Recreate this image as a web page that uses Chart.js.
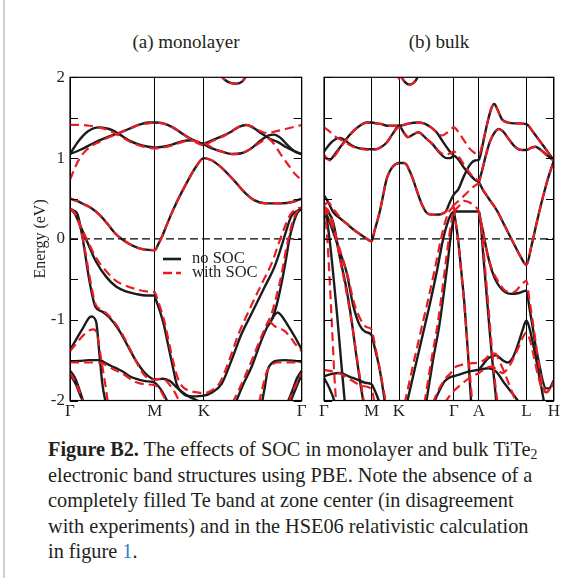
<!DOCTYPE html>
<html>
<head>
<meta charset="utf-8">
<script src="https://cdn.jsdelivr.net/npm/chart.js@4/dist/chart.umd.min.js"></script>
<style>
  html, body { margin: 0; padding: 0; background: #fff; }
  #page { position: relative; width: 561px; height: 578px; overflow: hidden;
          font-family: "Liberation Serif", "Times New Roman", serif; color: #231f20; }
  .rule { position: absolute; left: 3px; top: 0; width: 2px; height: 578px; background: #cfcfcf; }
  .panel-title { position: absolute; top: 31px; font-size: 19px; line-height: 22px;
                 transform: translateX(-50%); white-space: nowrap; }
  canvas { position: absolute; top: 0; }
  #caption { position: absolute; left: 48px; top: 437px; font-size: 20.3px; line-height: 25.5px;
             white-space: nowrap; }
  #caption sub { font-size: 0.68em; line-height: 0; vertical-align: -0.22em; }
  #caption .ref { color: #2f80bf; }
</style>
</head>
<body>
<div id="page">
  <div class="rule"></div>
  <div class="panel-title" style="left:186px">(a) monolayer</div>
  <div class="panel-title" style="left:439px">(b) bulk</div>
  <canvas id="mono" width="310" height="420" style="left:0"></canvas>
  <canvas id="bulk" width="251" height="420" style="left:310px"></canvas>
  <div id="caption"><b>Figure B2.</b> The effects of SOC in monolayer and bulk TiTe<sub>2</sub><br>electronic band structures using PBE. Note the absence of a<br>completely filled Te band at zone center (in disagreement<br>with experiments) and in the HSE06 relativistic calculation<br>in figure <span class="ref">1</span>.</div>
</div>
<script>
// Energy axis (eV): inward tick marks every 0.5 eV, labels on whole numbers
const energyTicks = [-2, -1.5, -1, -0.5, 0, 0.5, 1, 1.5, 2];
const energyLabels = [-2, -1, 0, 1, 2];

// High-symmetry points along each k-path (path length units)
const monoKpoints = [0, 0.866, 1.366, 2.366];
const monoKlabels = ['Γ', 'M', 'K', 'Γ'];
const bulkKpoints = [0, 0.866, 1.366, 2.366, 2.82, 3.686, 4.186];
const bulkKlabels = ['Γ', 'M', 'K', 'Γ', 'A', 'L', 'H'];

// Monolayer bands without spin-orbit coupling, each as [k, E] pairs
const monoNoSOC = [
  [[0,1.05],[0.08,1.2],[0.18,1.33],[0.3,1.38],[0.4,1.36],[0.5,1.3],[0.6,1.22],[0.7,1.17],[0.8,1.14],[0.866,1.13],[0.95,1.14],[1.05,1.17],[1.15,1.21],[1.25,1.22],[1.32,1.19],[1.366,1.17],[1.45,1.12],[1.55,1.08],[1.65,1.05],[1.75,1.06],[1.85,1.12],[1.95,1.22],[2.03,1.28],[2.08,1.29],[2.15,1.25],[2.23,1.15],[2.3,1.08],[2.366,1.05]],
  [[0,1.05],[0.1,1.1],[0.2,1.16],[0.3,1.22],[0.4,1.27],[0.5,1.31],[0.6,1.36],[0.7,1.41],[0.8,1.44],[0.866,1.44],[0.95,1.43],[1.05,1.38],[1.15,1.3],[1.25,1.23],[1.366,1.18],[1.45,1.22],[1.55,1.27],[1.65,1.33],[1.73,1.39],[1.8,1.41],[1.88,1.37],[1.96,1.3],[2.04,1.24],[2.12,1.2],[2.2,1.14],[2.3,1.08],[2.366,1.05]],
  [[1.52,2.05],[1.58,1.97],[1.64,1.93],[1.7,1.92],[1.76,1.95],[1.82,2.05]],
  [[0,0.5],[0.07,0.47],[0.14,0.43],[0.22,0.38],[0.3,0.3],[0.38,0.19],[0.46,0.07],[0.55,-0.02],[0.65,-0.09],[0.75,-0.13],[0.866,-0.14],[0.9,-0.07],[0.94,0.03],[0.99,0.18],[1.05,0.35],[1.1,0.48],[1.19,0.69],[1.28,0.88],[1.366,1.0],[1.45,0.97],[1.55,0.88],[1.67,0.73],[1.78,0.58],[1.88,0.48],[2.0,0.44],[2.15,0.44],[2.28,0.46],[2.366,0.5]],
  [[0,0.37],[0.04,0.35],[0.078,0.3],[0.13,0.0],[0.197,-0.51],[0.259,-0.84],[0.33,-0.9],[0.4,-0.97],[0.5,-1.13],[0.61,-1.37],[0.67,-1.5],[0.766,-1.66],[0.866,-1.74],[0.95,-1.73],[1.02,-1.76],[1.1,-1.85],[1.2,-1.94],[1.3,-2.0],[1.4,-2.05]],
  [[0,0.37],[0.05,0.31],[0.095,0.19],[0.163,0.0],[0.265,-0.28],[0.37,-0.47],[0.47,-0.59],[0.57,-0.65],[0.67,-0.68],[0.78,-0.7],[0.866,-0.7],[0.88,-0.76],[0.92,-0.9],[0.96,-1.07],[1.0,-1.3],[1.056,-1.62],[1.09,-1.8],[1.16,-1.92],[1.25,-1.95],[1.366,-1.94],[1.45,-1.9],[1.55,-1.79],[1.65,-1.5],[1.75,-1.18],[1.856,-0.92],[1.99,-0.59],[2.09,-0.34],[2.16,-0.09],[2.21,0.11],[2.26,0.28],[2.31,0.34],[2.366,0.37]],
  [[0,-1.375],[0.061,-1.25],[0.129,-1.11],[0.215,-0.96],[0.266,-1.02],[0.3,-1.42],[0.33,-1.79],[0.368,-2.05]],
  [[0,-1.52],[0.1,-1.51],[0.2,-1.5],[0.3,-1.5],[0.34,-1.52],[0.4,-1.56],[0.47,-1.6],[0.55,-1.65],[0.61,-1.7],[0.67,-1.73],[0.77,-1.76],[0.866,-1.78],[0.92,-1.85],[0.97,-1.95],[1.0,-2.03]],
  [[0,-1.63],[0.05,-1.72],[0.1,-1.88],[0.14,-2.03]],
  [[0,-1.68],[0.06,-1.8],[0.11,-1.95],[0.15,-2.05]],
  [[1.69,-2.03],[1.77,-1.8],[1.856,-1.58],[1.94,-1.3],[2.01,-1.1],[2.06,-1.0],[2.11,-0.82],[2.16,-0.55],[2.21,-0.22],[2.24,0.0],[2.28,0.19],[2.32,0.32],[2.366,0.37]],
  [[2.06,-1.0],[2.09,-0.94],[2.12,-0.91],[2.16,-0.95],[2.22,-1.06],[2.3,-1.22],[2.366,-1.37]],
  [[1.96,-2.03],[1.99,-1.83],[2.02,-1.62],[2.06,-1.54],[2.1,-1.51],[2.2,-1.5],[2.3,-1.51],[2.366,-1.52]],
  [[2.22,-2.03],[2.27,-1.88],[2.32,-1.72],[2.366,-1.63]],
  [[2.24,-2.05],[2.29,-1.9],[2.33,-1.78],[2.366,-1.68]]
];

// Monolayer bands with spin-orbit coupling
const monoSOC = [
  [[0,1.41],[0.1,1.41],[0.2,1.4],[0.3,1.38],[0.4,1.34],[0.5,1.28],[0.6,1.21],[0.7,1.16],[0.8,1.13],[0.866,1.12],[0.95,1.13],[1.05,1.16],[1.15,1.2],[1.25,1.22],[1.32,1.2],[1.366,1.19],[1.45,1.13],[1.55,1.08],[1.65,1.05],[1.75,1.06],[1.85,1.12],[1.95,1.2],[2.02,1.24],[2.08,1.18],[2.15,1.05],[2.22,0.93],[2.3,0.8],[2.366,0.73]],
  [[0,0.73],[0.05,0.88],[0.1,1.0],[0.16,1.09],[0.22,1.15],[0.3,1.2],[0.4,1.26],[0.5,1.31],[0.6,1.36],[0.7,1.41],[0.8,1.43],[0.866,1.44],[0.95,1.43],[1.05,1.38],[1.15,1.3],[1.25,1.22],[1.366,1.16],[1.45,1.21],[1.55,1.26],[1.65,1.33],[1.73,1.39],[1.8,1.41],[1.88,1.38],[1.95,1.33],[2.02,1.31],[2.1,1.33],[2.2,1.36],[2.3,1.39],[2.366,1.41]],
  [[1.52,2.05],[1.58,1.97],[1.64,1.93],[1.7,1.92],[1.76,1.95],[1.82,2.05]],
  [[0,0.5],[0.07,0.47],[0.14,0.43],[0.22,0.38],[0.3,0.3],[0.38,0.19],[0.46,0.07],[0.55,-0.02],[0.65,-0.09],[0.75,-0.13],[0.866,-0.14],[0.9,-0.07],[0.94,0.03],[0.99,0.18],[1.05,0.35],[1.1,0.48],[1.19,0.69],[1.28,0.88],[1.366,1.0],[1.45,0.97],[1.55,0.88],[1.67,0.73],[1.78,0.58],[1.88,0.48],[2.0,0.44],[2.15,0.44],[2.28,0.46],[2.366,0.5]],
  [[0,0.37],[0.04,0.33],[0.08,0.24],[0.14,-0.05],[0.205,-0.5],[0.265,-0.82],[0.33,-0.88],[0.42,-0.98],[0.52,-1.15],[0.62,-1.38],[0.68,-1.53],[0.77,-1.7],[0.866,-1.74],[0.95,-1.73],[1.0,-1.78],[1.07,-1.9],[1.12,-2.02]],
  [[0,0.38],[0.05,0.32],[0.1,0.18],[0.17,0.0],[0.27,-0.24],[0.37,-0.4],[0.47,-0.52],[0.57,-0.58],[0.67,-0.62],[0.78,-0.65],[0.866,-0.66],[0.89,-0.74],[0.93,-0.88],[0.97,-1.05],[1.01,-1.28],[1.06,-1.55],[1.1,-1.72],[1.15,-1.83],[1.22,-1.88],[1.3,-1.9],[1.366,-1.91],[1.44,-1.88],[1.53,-1.78],[1.62,-1.52],[1.72,-1.18],[1.83,-0.88],[1.96,-0.55],[2.06,-0.3],[2.13,-0.06],[2.19,0.14],[2.25,0.3],[2.31,0.37],[2.366,0.39]],
  [[0,-1.39],[0.06,-1.3],[0.13,-1.2],[0.2,-1.13],[0.245,-1.12],[0.28,-1.2],[0.32,-1.5],[0.36,-1.8],[0.39,-2.05]],
  [[0,-1.53],[0.1,-1.53],[0.2,-1.53],[0.3,-1.53],[0.35,-1.55],[0.41,-1.59],[0.47,-1.63],[0.55,-1.68],[0.61,-1.73],[0.67,-1.77],[0.77,-1.8],[0.866,-1.81],[0.92,-1.87],[0.97,-1.98],[1.0,-2.04]],
  [[0,-1.66],[0.06,-1.78],[0.1,-1.9],[0.145,-2.03]],
  [[1.66,-2.03],[1.75,-1.8],[1.84,-1.55],[1.93,-1.28],[2.0,-1.08],[2.06,-0.92],[2.11,-0.7],[2.16,-0.44],[2.2,-0.17],[2.23,0.0],[2.27,0.2],[2.32,0.34],[2.366,0.39]],
  [[2.04,-1.02],[2.09,-1.08],[2.13,-1.11],[2.18,-1.13],[2.24,-1.2],[2.3,-1.3],[2.366,-1.39]],
  [[1.93,-2.03],[1.97,-1.82],[2.01,-1.64],[2.06,-1.56],[2.12,-1.53],[2.2,-1.53],[2.3,-1.53],[2.366,-1.53]],
  [[2.23,-2.03],[2.28,-1.88],[2.33,-1.75],[2.366,-1.66]]
];

// Bulk bands without spin-orbit coupling
const bulkNoSOC = [
  [[0,1.08],[0.1,1.17],[0.2,1.23],[0.29,1.25],[0.38,1.22],[0.5,1.16],[0.65,1.12],[0.866,1.11],[0.95,1.11],[1.05,1.14],[1.15,1.2],[1.25,1.3],[1.366,1.4],[1.45,1.32],[1.53,1.26],[1.62,1.29],[1.72,1.32],[1.85,1.25],[1.98,1.17],[2.1,1.07],[2.23,1.0],[2.3,1.0],[2.366,1.03],[2.45,0.98],[2.55,0.88],[2.65,0.8],[2.75,0.73],[2.82,0.7],[2.9,0.6],[3.0,0.5],[3.15,0.35],[3.3,0.15],[3.45,-0.05],[3.58,-0.22],[3.686,-0.32],[3.78,-0.08],[3.88,0.22],[3.98,0.5],[4.08,0.75],[4.186,0.97]],
  [[0,1.01],[0.11,0.98],[0.2,1.05],[0.3,1.14],[0.41,1.24],[0.53,1.33],[0.65,1.4],[0.78,1.44],[0.866,1.44],[0.95,1.43],[1.05,1.42],[1.15,1.4],[1.25,1.4],[1.366,1.4],[1.45,1.41],[1.56,1.43],[1.7,1.44],[1.82,1.43],[1.95,1.38],[2.05,1.32],[2.15,1.22],[2.25,1.12],[2.32,1.06],[2.366,1.05]],
  [[0,0.54],[0.08,0.45],[0.17,0.33],[0.3,0.25],[0.41,0.19],[0.53,0.12],[0.65,0.06],[0.76,0.01],[0.866,-0.03],[0.92,0.1],[0.97,0.22],[1.02,0.35],[1.08,0.55],[1.14,0.74],[1.2,0.84],[1.26,0.9],[1.366,0.94],[1.45,0.94],[1.5,0.92],[1.56,0.84],[1.62,0.74],[1.68,0.62],[1.74,0.5],[1.8,0.4],[1.86,0.33],[1.95,0.3],[2.04,0.3],[2.15,0.31],[2.22,0.34],[2.29,0.45],[2.366,0.55],[2.45,0.62],[2.55,0.78],[2.65,0.91],[2.75,0.97],[2.82,0.98],[2.9,1.2],[2.98,1.45],[3.05,1.62],[3.1,1.67],[3.16,1.6],[3.24,1.48],[3.35,1.44],[3.5,1.43],[3.686,1.42],[3.8,1.33],[3.92,1.22],[4.05,1.1],[4.186,0.97]],
  [[2.82,0.7],[2.88,0.85],[2.95,1.04],[3.02,1.2],[3.1,1.31],[3.18,1.36],[3.26,1.33],[3.36,1.24],[3.48,1.14],[3.6,1.1],[3.686,1.1],[3.78,1.13],[3.85,1.14],[3.95,1.1],[4.07,1.03],[4.186,0.97]],
  [[2.366,0.34],[2.5,0.34],[2.65,0.34],[2.82,0.34],[2.86,0.2],[2.9,0.08],[2.95,-0.1],[3.0,-0.25],[3.06,-0.4],[3.14,-0.53],[3.25,-0.63],[3.4,-0.68],[3.55,-0.67],[3.686,-0.64],[3.74,-0.85],[3.8,-1.09],[3.86,-1.35],[3.92,-1.55],[3.98,-1.75],[4.04,-1.85],[4.1,-1.85],[4.186,-1.75]],
  [[2.82,0.34],[2.86,0.15],[2.9,-0.2],[2.95,-0.6],[3.0,-1.0],[3.05,-1.4],[3.1,-1.75],[3.14,-2.03]],
  [[2.366,0.34],[2.4,0.2],[2.44,0.0],[2.5,-0.4],[2.56,-0.83],[2.62,-1.4],[2.68,-2.03]],
  [[0,0.37],[0.04,0.28],[0.1,0.0],[0.17,-0.45],[0.24,-0.95],[0.31,-1.5],[0.38,-2.03]],
  [[0,0.37],[0.08,0.33],[0.17,0.2],[0.28,-0.2],[0.41,-0.62],[0.5,-1.0],[0.59,-1.45],[0.66,-1.78],[0.72,-2.03]],
  [[0,0.37],[0.08,0.25],[0.17,0.08],[0.29,-0.16],[0.41,-0.41],[0.53,-0.82],[0.65,-1.07],[0.75,-1.15],[0.866,-1.19],[0.9,-1.28],[0.95,-1.42],[1.01,-1.6],[1.06,-1.8],[1.11,-2.03]],
  [[1.51,-2.03],[1.65,-1.62],[1.8,-1.18],[1.92,-0.83],[2.05,-0.42],[2.17,0.0],[2.26,0.22],[2.32,0.31],[2.366,0.34]],
  [[1.86,-2.03],[1.98,-1.52],[2.1,-1.07],[2.18,-0.68],[2.26,-0.25],[2.31,0.05],[2.35,0.22],[2.366,0.34]],
  [[0,-1.7],[0.15,-1.67],[0.29,-1.66],[0.45,-1.7],[0.6,-1.74],[0.75,-1.78],[0.866,-1.8],[0.92,-1.87],[0.97,-1.95],[1.01,-2.03]],
  [[0,-1.72],[0.08,-1.82],[0.15,-1.93],[0.2,-2.03]],
  [[2.0,-2.03],[2.1,-1.88],[2.2,-1.76],[2.3,-1.71],[2.366,-1.7],[2.5,-1.67],[2.65,-1.64],[2.82,-1.62],[3.0,-1.6],[3.13,-1.64],[3.3,-1.8],[3.45,-1.93],[3.56,-2.03]],
  [[2.82,-1.62],[2.9,-1.55],[2.97,-1.49],[3.04,-1.46],[3.13,-1.44],[3.25,-1.5],[3.35,-1.53],[3.43,-1.48],[3.5,-1.37],[3.56,-1.25],[3.62,-1.12],[3.686,-1.01],[3.74,-1.1],[3.8,-1.28],[3.86,-1.48],[3.92,-1.7],[3.97,-1.88],[4.01,-2.03]],
  [[1.38,2.05],[1.45,1.96],[1.56,1.91],[1.66,1.95],[1.74,2.05]]
];

// Bulk bands with spin-orbit coupling
const bulkSOC = [
  [[0,1.38],[0.1,1.33],[0.2,1.27],[0.3,1.23],[0.4,1.19],[0.53,1.14],[0.7,1.11],[0.866,1.1],[0.95,1.11],[1.05,1.14],[1.15,1.2],[1.25,1.3],[1.366,1.38],[1.45,1.31],[1.53,1.26],[1.62,1.29],[1.72,1.32],[1.85,1.25],[1.98,1.17],[2.1,1.08],[2.22,1.04],[2.3,1.06],[2.366,1.08],[2.45,1.02],[2.55,0.92],[2.65,0.82],[2.75,0.75],[2.82,0.72],[2.88,0.85],[2.95,1.04],[3.02,1.2],[3.1,1.31],[3.18,1.36],[3.26,1.33],[3.36,1.24],[3.48,1.14],[3.6,1.1],[3.686,1.1],[3.78,1.13],[3.85,1.14],[3.95,1.1],[4.07,1.03],[4.186,0.97]],
  [[0,1.04],[0.11,0.97],[0.2,1.03],[0.3,1.13],[0.41,1.23],[0.53,1.33],[0.65,1.4],[0.78,1.44],[0.866,1.44],[0.95,1.43],[1.05,1.42],[1.15,1.4],[1.25,1.4],[1.366,1.4],[1.45,1.41],[1.56,1.43],[1.7,1.44],[1.82,1.43],[1.95,1.38],[2.05,1.32],[2.15,1.28],[2.25,1.32],[2.366,1.38],[2.45,1.32],[2.55,1.22],[2.65,1.12],[2.75,1.06],[2.82,1.04],[2.9,1.22],[2.98,1.45],[3.05,1.62],[3.1,1.67],[3.16,1.6],[3.24,1.48],[3.35,1.44],[3.5,1.43],[3.686,1.42],[3.8,1.33],[3.92,1.22],[4.05,1.1],[4.186,0.97]],
  [[0,0.42],[0.08,0.45],[0.17,0.37],[0.3,0.26],[0.41,0.19],[0.53,0.12],[0.65,0.06],[0.76,0.01],[0.866,-0.03],[0.92,0.1],[0.97,0.22],[1.02,0.35],[1.08,0.55],[1.14,0.74],[1.2,0.84],[1.26,0.9],[1.366,0.94],[1.45,0.94],[1.5,0.92],[1.56,0.84],[1.62,0.74],[1.68,0.62],[1.74,0.5],[1.8,0.4],[1.86,0.33],[1.95,0.3],[2.04,0.3],[2.15,0.31],[2.22,0.34],[2.29,0.38],[2.366,0.42],[2.5,0.5],[2.65,0.6],[2.82,0.68],[2.9,0.6],[3.0,0.5],[3.15,0.35],[3.3,0.15],[3.45,-0.05],[3.58,-0.22],[3.686,-0.32],[3.78,-0.08],[3.88,0.22],[3.98,0.5],[4.08,0.75],[4.186,0.97]],
  [[2.366,0.34],[2.45,0.4],[2.55,0.47],[2.65,0.45],[2.75,0.4],[2.82,0.34],[2.87,0.18],[2.92,0.0],[2.97,-0.18],[3.05,-0.36],[3.15,-0.5],[3.3,-0.64],[3.45,-0.66],[3.58,-0.58],[3.686,-0.52],[3.74,-0.75],[3.8,-1.02],[3.86,-1.3],[3.92,-1.58],[3.98,-1.8],[4.05,-1.9],[4.12,-1.86],[4.186,-1.77]],
  [[2.82,0.34],[2.87,0.12],[2.92,-0.25],[2.97,-0.65],[3.02,-1.05],[3.07,-1.45],[3.12,-1.8],[3.16,-2.03]],
  [[2.366,0.4],[2.39,0.25],[2.44,0.0],[2.5,-0.42],[2.56,-0.85],[2.63,-1.45],[2.7,-2.03]],
  [[0,0.4],[0.03,0.25],[0.07,-0.1],[0.11,-0.6],[0.15,-1.15],[0.19,-1.7],[0.22,-2.03]],
  [[0,0.4],[0.08,0.35],[0.18,0.15],[0.3,-0.28],[0.42,-0.7],[0.52,-1.1],[0.61,-1.52],[0.68,-1.82],[0.73,-2.03]],
  [[0,0.4],[0.1,0.25],[0.2,0.05],[0.32,-0.2],[0.43,-0.45],[0.55,-0.8],[0.67,-1.0],[0.77,-1.09],[0.866,-1.12],[0.91,-1.25],[0.96,-1.42],[1.02,-1.62],[1.08,-1.85],[1.13,-2.03]],
  [[1.47,-2.03],[1.61,-1.6],[1.76,-1.15],[1.88,-0.8],[2.01,-0.4],[2.13,0.0],[2.22,0.24],[2.3,0.36],[2.366,0.4]],
  [[1.83,-2.03],[1.95,-1.52],[2.07,-1.05],[2.15,-0.65],[2.23,-0.22],[2.29,0.08],[2.34,0.3],[2.366,0.4]],
  [[0,-1.62],[0.15,-1.64],[0.3,-1.67],[0.5,-1.75],[0.7,-1.82],[0.866,-1.86],[0.92,-2.03]],
  [[1.98,-2.03],[2.1,-1.85],[2.22,-1.72],[2.32,-1.65],[2.366,-1.6],[2.5,-1.56],[2.65,-1.54],[2.82,-1.53],[2.95,-1.48],[3.05,-1.42],[3.12,-1.42],[3.2,-1.52],[3.3,-1.68],[3.4,-1.85],[3.5,-2.03]],
  [[2.2,-2.03],[2.3,-1.93],[2.366,-1.88],[2.5,-1.8],[2.65,-1.72],[2.82,-1.66],[2.95,-1.6],[3.05,-1.58],[3.15,-1.62],[3.25,-1.66],[3.35,-1.6],[3.45,-1.48],[3.55,-1.33],[3.62,-1.22],[3.686,-1.16],[3.75,-1.25],[3.82,-1.45],[3.9,-1.7],[3.97,-1.85],[4.05,-1.9],[4.12,-1.85],[4.186,-1.77]],
  [[1.38,2.05],[1.45,1.96],[1.56,1.91],[1.66,1.95],[1.74,2.05]],
  [[1.34,2.03],[1.366,1.98],[1.39,2.03]]
];

const FONT = '"Liberation Serif", "Times New Roman", serif';
const INK = '#231f20';
const BLACK_BAND = '#1c1c1c';
const RED_BAND = '#ec1c24';

// Frame, inward energy ticks and (optionally) the legend, drawn over the plot
const framePlugin = {
  id: 'bandFrame',
  afterDatasetsDraw(chart, args, opts) {
    const { ctx, chartArea: a, scales: { y } } = chart;
    ctx.save();
    ctx.strokeStyle = '#000';
    ctx.lineWidth = 1.2;
    ctx.strokeRect(a.left, a.top, a.right - a.left, a.bottom - a.top);
    ctx.lineWidth = 1;
    energyTicks.forEach(v => {
      const py = Math.round(y.getPixelForValue(v)) + 0.5;
      ctx.beginPath();
      ctx.moveTo(a.left, py); ctx.lineTo(a.left + 8, py);
      ctx.moveTo(a.right - 8, py); ctx.lineTo(a.right, py);
      ctx.stroke();
    });
    if (opts.legend) {
      const lx = a.left + 93, ly1 = 259, ly2 = 273;
      ctx.lineWidth = 2.6;
      ctx.strokeStyle = BLACK_BAND;
      ctx.beginPath(); ctx.moveTo(lx, ly1); ctx.lineTo(lx + 18, ly1); ctx.stroke();
      ctx.strokeStyle = RED_BAND;
      ctx.setLineDash([9, 4]);
      ctx.beginPath(); ctx.moveTo(lx, ly2); ctx.lineTo(lx + 18, ly2); ctx.stroke();
      ctx.setLineDash([]);
      ctx.fillStyle = INK;
      ctx.font = '16.5px ' + FONT;
      ctx.textBaseline = 'middle';
      ctx.fillText('no SOC', lx + 29, ly1);
      ctx.fillText('with SOC', lx + 29, ly2);
    }
    ctx.restore();
  }
};

function bandSets(bands, soc) {
  return bands.map(b => ({
    data: b.map(p => ({ x: p[0], y: p[1] })),
    showLine: true,
    borderColor: soc ? RED_BAND : BLACK_BAND,
    borderWidth: soc ? 2.2 : 2.4,
    borderDash: soc ? [9, 5] : [],
    cubicInterpolationMode: 'monotone',
    pointRadius: 0,
    order: soc ? 0 : 1
  }));
}

function makeChart(id, kpoints, klabels, noSOC, soc, o) {
  const kmax = kpoints[kpoints.length - 1];
  const datasets = [
    {
      data: [{ x: 0, y: 0 }, { x: kmax, y: 0 }],
      showLine: true, borderColor: '#000', borderWidth: 1.4,
      borderDash: [8, 4], pointRadius: 0, order: 2
    },
    ...bandSets(noSOC, false),
    ...bandSets(soc, true)
  ];
  return new Chart(document.getElementById(id), {
    type: 'scatter',
    data: { datasets },
    options: {
      responsive: false,
      animation: false,
      devicePixelRatio: 1,
      events: [],
      layout: { padding: { top: 77.3, right: o.padRight, left: 0, bottom: 0 } },
      plugins: { legend: { display: false }, tooltip: { enabled: false }, bandFrame: { legend: o.legend } },
      scales: {
        x: {
          type: 'linear', min: 0, max: kmax,
          afterBuildTicks: s => { s.ticks = kpoints.map(v => ({ value: v })); },
          afterFit: s => { s.height = 19.5; },
          ticks: {
            autoSkip: false, maxRotation: 0, padding: 1, color: INK,
            font: { family: FONT, size: 17 },
            callback: (v, i) => klabels[i]
          },
          grid: { color: '#000', lineWidth: 1, drawTicks: false },
          border: { display: false }
        },
        y: {
          type: 'linear', min: -2, max: 2,
          afterBuildTicks: s => { s.ticks = energyLabels.map(v => ({ value: v })); },
          afterFit: s => { s.width = o.yWidth; },
          ticks: {
            display: o.showY, padding: 5, color: INK,
            font: { family: FONT, size: 17 },
            callback: v => String(v)
          },
          grid: { display: false, drawTicks: false },
          border: { display: false },
          title: {
            display: o.showY, text: 'Energy (eV)', color: INK,
            font: { family: FONT, size: 16 },
            padding: { top: 31, bottom: 0 }
          }
        }
      }
    },
    plugins: [framePlugin]
  });
}

makeChart('mono', monoKpoints, monoKlabels, monoNoSOC, monoSOC,
  { yWidth: 70, padRight: 8.3, showY: true, legend: true });
makeChart('bulk', bulkKpoints, bulkKlabels, bulkNoSOC, bulkSOC,
  { yWidth: 14, padRight: 6.3, showY: false, legend: false });
</script>
</body>
</html>
